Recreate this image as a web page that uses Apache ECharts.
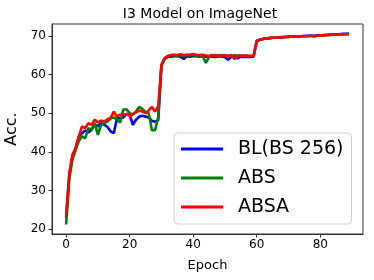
<!DOCTYPE html>
<html>
<head>
<meta charset="utf-8">
<script src="https://cdn.jsdelivr.net/npm/echarts@6/dist/echarts.min.js"></script>
<style>
html,body{margin:0;padding:0;background:#fff;}
#chart{width:374px;height:280px;}
</style>
</head>
<body>
<div id="chart"></div>
<script>
const epochs = Array.from({length: 90}, (_, i) => i);
const xTicks = [0, 20, 40, 60, 80];
const yTicks = [20, 30, 40, 50, 60, 70];
const seriesNames = ['BL(BS 256)', 'ABS', 'ABSA'];

const blValues = [
  23.0, 34.0, 39.0, 41.0, 44.0, 44.8, 45.5, 45.0, 45.7, 47.0,
  46.6, 47.4, 47.0, 46.4, 45.3, 44.8, 48.7, 48.7, 48.9, 49.8,
  49.6, 47.0, 48.3, 49.1, 49.3, 49.1, 48.9, 48.0, 47.8, 48.2,
  62.3, 64.0, 64.5, 64.6, 64.7, 64.7, 64.6, 64.0, 64.7, 64.6,
  64.8, 64.7, 64.6, 64.7, 64.6, 64.7, 64.6, 64.5, 64.7, 64.6,
  64.5, 63.8, 64.6, 64.5, 64.2, 64.6, 64.5, 64.6, 64.5, 64.6,
  68.7, 69.0, 69.2, 69.3, 69.4, 69.5, 69.5, 69.6, 69.7, 69.7,
  69.8, 69.8, 69.8, 69.9, 69.9, 70.0, 70.0, 70.0, 70.0, 70.1,
  70.1, 70.2, 70.2, 70.3, 70.3, 70.4, 70.4, 70.5, 70.5, 70.6
];
const absValues = [
  21.2, 33.0, 38.0, 40.5, 42.8, 44.0, 43.5, 46.1, 45.8, 47.4,
  44.4, 47.0, 47.4, 47.8, 48.6, 48.9, 48.3, 47.6, 50.9, 51.0,
  50.0, 49.6, 50.4, 51.6, 51.1, 50.2, 50.0, 45.6, 45.6, 49.0,
  62.4, 64.1, 64.7, 64.9, 65.0, 64.9, 65.0, 64.8, 65.0, 65.1,
  65.0, 64.9, 64.8, 64.7, 63.0, 64.6, 64.9, 65.0, 64.8, 65.0,
  64.9, 64.8, 64.7, 65.0, 64.8, 64.9, 64.8, 64.9, 64.7, 64.7,
  68.6, 69.0, 69.2, 69.3, 69.4, 69.5, 69.5, 69.6, 69.6, 69.7,
  69.7, 69.8, 69.8, 69.8, 69.9, 69.9, 69.9, 70.0, 69.9, 70.0,
  70.1, 70.1, 70.2, 70.2, 70.3, 70.3, 70.3, 70.4, 70.4, 70.5
];
const absaValues = [
  23.3, 34.5, 39.2, 41.0, 44.0, 46.6, 46.1, 47.4, 47.0, 48.3,
  47.6, 48.1, 47.8, 48.4, 48.7, 50.4, 49.1, 49.6, 49.6, 49.8,
  49.3, 49.8, 50.2, 50.7, 50.4, 50.0, 50.7, 51.6, 50.4, 51.8,
  62.5, 64.2, 64.8, 65.0, 65.1, 65.0, 65.2, 65.0, 65.1, 65.0,
  65.3, 65.1, 65.0, 65.1, 64.9, 64.8, 65.0, 64.8, 65.0, 64.7,
  65.0, 64.8, 65.0, 64.0, 64.9, 64.8, 64.9, 64.7, 64.8, 64.9,
  68.6, 69.0, 69.2, 69.3, 69.4, 69.5, 69.5, 69.6, 69.6, 69.7,
  69.7, 69.8, 69.8, 69.8, 69.9, 69.9, 69.9, 70.0, 69.8, 70.0,
  70.1, 70.1, 70.2, 70.2, 70.3, 70.3, 70.3, 70.4, 70.4, 70.4
];

const FONT = 'DejaVu Sans';
const pair = vals => epochs.map((e, i) => [e, vals[i]]);
const mkSeries = (name, vals, color) => ({
  name: name, type: 'line', data: pair(vals), symbol: 'none',
  lineStyle: {color: color, width: 2.6}, itemStyle: {color: color},
  animation: false
});

const chart = echarts.init(document.getElementById('chart'), null, {renderer: 'canvas'});
chart.setOption({
  animation: false,
  backgroundColor: '#fff',
  graphic: [{
    type: 'text', x: 200, y: 14,
    style: {text: 'I3 Model on ImageNet', font: '14px "DejaVu Sans"', fill: '#000',
            textAlign: 'center', textVerticalAlign: 'middle'}
  }],
  grid: {left: 52, right: 11, top: 24, bottom: 46, containLabel: false, outerBoundsMode: 'none',
         show: true, borderColor: '#333', borderWidth: 1},
  legend: {
    orient: 'vertical', left: 174, top: 133,
    data: seriesNames,
    icon: 'rect', itemWidth: 42, itemHeight: 3, itemGap: 7,
    padding: [5, 8, 6, 7],
    backgroundColor: '#fff', borderColor: '#d0d0d0', borderWidth: 1, borderRadius: 4,
    textStyle: {fontFamily: FONT, fontSize: 19, color: '#000', padding: [0, 0, 0, 10], lineHeight: 22}
  },
  xAxis: {
    type: 'value', min: -4.45, max: 93.45,
    name: 'Epoch', nameLocation: 'middle', nameGap: 25,
    nameTextStyle: {fontFamily: FONT, fontSize: 13, color: '#000'},
    axisLine: {show: true, onZero: false, lineStyle: {color: '#333', width: 1}},
    axisTick: {show: true, length: 3.5, customValues: xTicks, lineStyle: {color: '#333'}},
    axisLabel: {customValues: xTicks, fontFamily: FONT, fontSize: 12, color: '#000', margin: 5},
    splitLine: {show: false}
  },
  yAxis: {
    type: 'value', min: 18.75, max: 73.05,
    name: 'Acc.', nameLocation: 'middle', nameGap: 29, nameRotate: 90,
    nameTextStyle: {fontFamily: FONT, fontSize: 16, color: '#000'},
    axisLine: {show: true, onZero: false, lineStyle: {color: '#333', width: 1}},
    axisTick: {show: true, length: 3.5, customValues: yTicks, lineStyle: {color: '#333'}},
    axisLabel: {customValues: yTicks, fontFamily: FONT, fontSize: 12, color: '#000', margin: 6},
    splitLine: {show: false}
  },
  series: [
    mkSeries(seriesNames[0], blValues, '#0000ff'),
    mkSeries(seriesNames[1], absValues, '#008000'),
    mkSeries(seriesNames[2], absaValues, '#ff0000')
  ]
});
</script>
</body>
</html>
